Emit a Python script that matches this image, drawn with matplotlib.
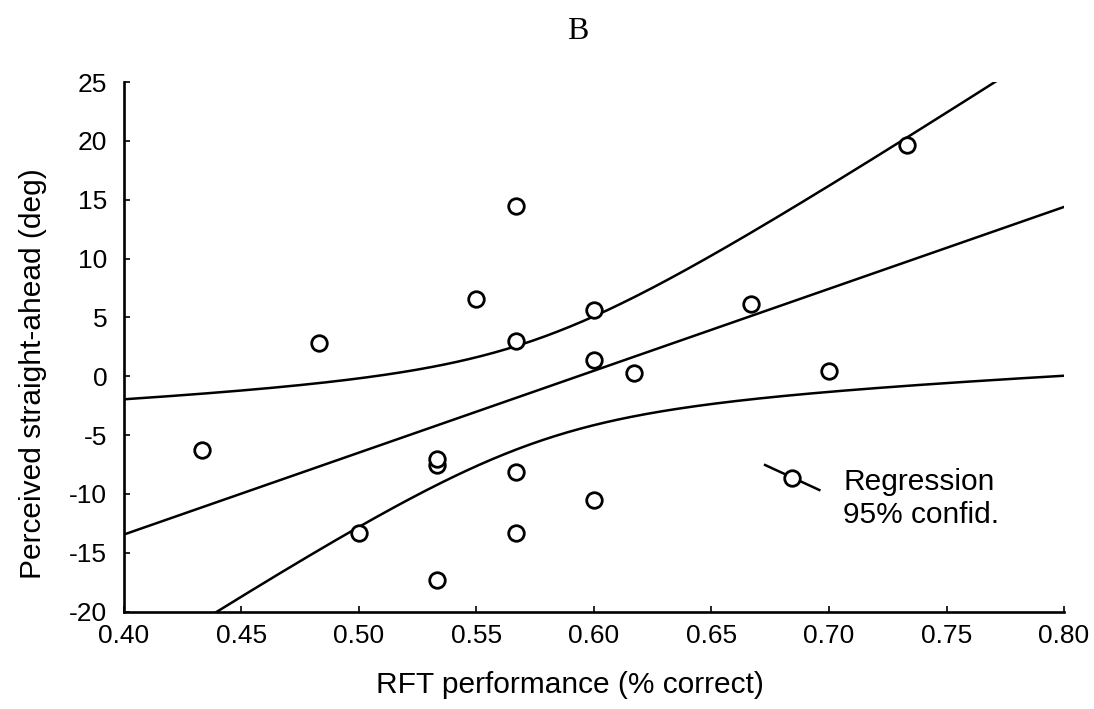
import matplotlib
matplotlib.use("Agg")
import matplotlib.pyplot as plt
import numpy as np

plt.rcParams['font.family'] = ['Liberation Sans', 'DejaVu Sans']
plt.rcParams['axes.unicode_minus'] = False

# RFT performance (% correct) vs perceived straight-ahead (deg)
rft = [0.433, 0.483, 0.500, 0.533, 0.533, 0.533, 0.550, 0.567, 0.567,
       0.567, 0.567, 0.600, 0.600, 0.600, 0.617, 0.667, 0.700, 0.733]
straight = [-6.3, 2.85, -13.3, -7.55, -7.0, -17.3, 6.6, 14.5, 3.0,
            -8.15, -13.3, 5.6, 1.4, -10.5, 0.3, 6.1, 0.45, 19.65]

xticks = [0.40, 0.45, 0.50, 0.55, 0.60, 0.65, 0.70, 0.75, 0.80]
yticks = [-20, -15, -10, -5, 0, 5, 10, 15, 20, 25]

t_crit = 2.120  # t(0.975, df=16)

x = np.array(rft)
y = np.array(straight)
n = len(x)
b, a = np.polyfit(x, y, 1)
resid = y - (a + b * x)
s = np.sqrt(np.sum(resid ** 2) / (n - 2))
sxx = np.sum((x - x.mean()) ** 2)

xg = np.linspace(0.40, 0.80, 300)
yfit = a + b * xg
half = t_crit * s * np.sqrt(1.0 / n + (xg - x.mean()) ** 2 / sxx)

fig = plt.figure(figsize=(10.94, 7.09), dpi=100)
ax = fig.add_axes([0.1133, 0.1375, 0.8593, 0.7468])

lw = 1.8
ax.plot(xg, yfit, color='black', lw=lw, zorder=2)
ax.plot(xg, yfit + half, color='black', lw=lw, zorder=2)
ax.plot(xg, yfit - half, color='black', lw=lw, zorder=2)
ax.plot(x, y, 'o', ms=11.2, mfc='white', mec='black', mew=2.0,
        linestyle='none', zorder=3, clip_on=False)

ax.set_xlim(0.40, 0.80)
ax.set_ylim(-20, 25)
ax.set_xticks(xticks)
ax.set_xticklabels(["%.2f" % v for v in xticks])
ax.set_yticks(yticks)

for side in ['top', 'right']:
    ax.spines[side].set_visible(False)
for side in ['left', 'bottom']:
    ax.spines[side].set_linewidth(1.9)

ax.tick_params(axis='both', direction='in', length=4, width=1.2, labelsize=19)
ax.tick_params(axis='x', pad=9)
ax.tick_params(axis='y', pad=12)

ax.set_xlabel("RFT performance (% correct)", fontsize=21.5)
ax.set_ylabel("Perceived straight-ahead (deg)", fontsize=21.5)
ax.xaxis.set_label_coords(0.4745, -0.113)
ax.yaxis.set_label_coords(-0.082, 0.45)

# legend key: line with an open circle in the middle
ax.plot([0.682, 0.7397], [0.2767, 0.2295], color='black', lw=lw,
        transform=ax.transAxes, zorder=2)
ax.plot([0.711], [0.2531], 'o', ms=11.2, mfc='white', mec='black', mew=2.0,
        transform=ax.transAxes, zorder=3)
ax.text(0.765, 0.2295, "Regression", fontsize=21.5, va='baseline',
        transform=ax.transAxes)
ax.text(0.765, 0.1666, "95% confid.", fontsize=21.5, va='baseline',
        transform=ax.transAxes)

fig.text(0.528, 0.955, "B", fontsize=23, family='Liberation Serif',
         ha='center', va='center')

fig.savefig("out.png", dpi=100)
